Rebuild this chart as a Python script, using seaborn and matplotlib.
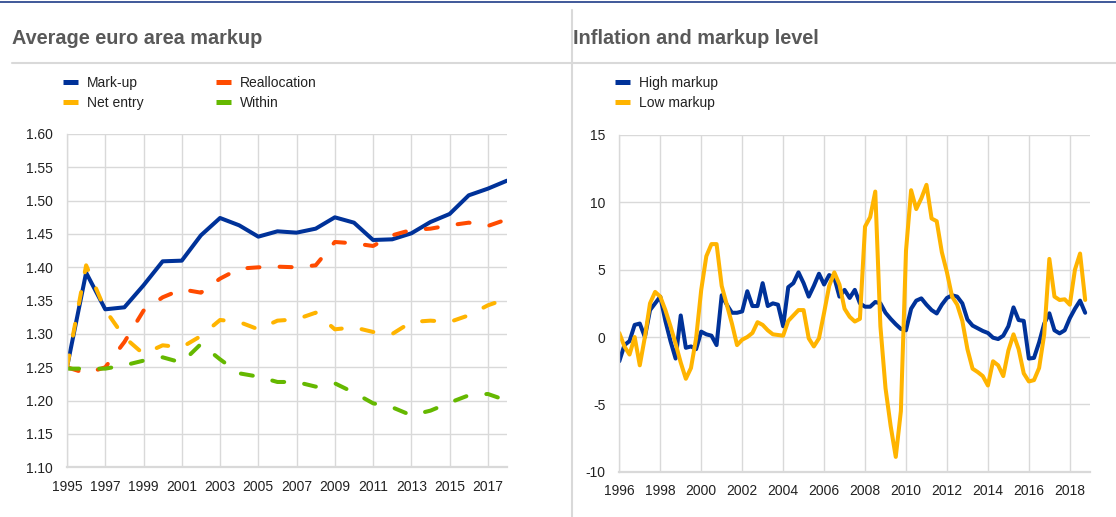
import numpy as np
import pandas as pd
import matplotlib
matplotlib.use("Agg")
import matplotlib.pyplot as plt
from matplotlib.lines import Line2D
import seaborn as sns

# ---------------- data: left panel (annual) ----------------
years = list(range(1995, 2019))
markup = [1.250, 1.392, 1.337, 1.340, 1.373, 1.409, 1.410, 1.448, 1.474, 1.463,
          1.446, 1.454, 1.452, 1.458, 1.475, 1.467, 1.441, 1.442, 1.451, 1.468,
          1.480, 1.508, 1.518, 1.530]
reallocation = [1.250, 1.241, 1.250, 1.288, 1.335, 1.355, 1.367, 1.362, 1.383, 1.398,
                1.400, 1.401, 1.400, 1.403, 1.438, 1.436, 1.432, 1.448, 1.456, 1.458,
                1.463, 1.467, 1.462, 1.472]
net_entry = [1.250, 1.403, 1.336, 1.295, 1.270, 1.283, 1.280, 1.297, 1.321, 1.318,
             1.307, 1.320, 1.322, 1.332, 1.307, 1.310, 1.303, 1.300, 1.318, 1.320,
             1.318, 1.328, 1.343, 1.353]
within = [1.248, 1.248, 1.248, 1.253, 1.260, 1.265, 1.257, 1.285, 1.262, 1.241,
          1.236, 1.228, 1.228, 1.221, 1.226, 1.212, 1.196, 1.190, 1.178, 1.185,
          1.197, 1.208, 1.210, 1.200]
left_labels = ["Mark-up", "Net entry", "Reallocation", "Within"]
left_yticks = [1.10, 1.15, 1.20, 1.25, 1.30, 1.35, 1.40, 1.45, 1.50, 1.55, 1.60]
left_xticks = list(range(1995, 2018, 2))

# ---------------- data: right panel (quarterly, 1996Q1-2018Q4) ----------------
quarters = pd.period_range("1996Q1", "2018Q4", freq="Q")
high_markup = [
    -1.8, -0.6, -0.3, 0.9,
    1.0, 0.0, 2.0, 2.5,
    3.0, 1.2, -0.3, -1.6,
    1.6, -0.8, -0.7, -0.9,
    0.4, 0.2, 0.1, -0.6,
    3.1, 2.4, 1.8, 1.8,
    1.9, 3.4, 2.3, 2.3,
    4.0, 2.3, 2.5, 2.4,
    0.8, 3.7, 4.0, 4.8,
    4.0, 3.0, 3.8, 4.7,
    3.9, 4.6, 4.4, 3.0,
    3.5, 2.9, 3.5, 2.5,
    2.25, 2.25, 2.6, 2.5,
    1.8, 1.35, 0.95, 0.6,
    0.5, 2.1, 2.7, 2.87,
    2.4, 2.0, 1.75, 2.4,
    2.9, 3.1, 3.0, 2.5,
    1.3, 0.85, 0.65, 0.45,
    0.3, -0.05, -0.15, 0.1,
    0.8, 2.2, 1.26, 1.2,
    -1.6, -1.55, -0.4, 1.0,
    1.76, 0.5, 0.27, 0.5,
    1.4, 2.1, 2.7, 1.8]
low_markup = [
    0.3, -0.7, -1.3, 0.0,
    -2.1, 0.0, 2.5, 3.35,
    3.0, 2.0, 0.8, -0.5,
    -1.9, -3.1, -2.3, -0.1,
    3.5, 6.0, 6.9, 6.9,
    3.8, 2.4, 1.0, -0.6,
    -0.2, 0.0, 0.3, 1.1,
    0.9, 0.5, 0.2, 0.15,
    0.1, 1.2, 1.6, 2.0,
    2.0, -0.1, -0.7, -0.1,
    1.8, 3.8, 4.8, 3.9,
    2.1, 1.5, 1.15, 1.35,
    8.2, 8.9, 10.8, 0.8,
    -3.8, -6.6, -8.9, -5.5,
    6.4, 10.9, 9.5, 10.3,
    11.3, 8.8, 8.6, 6.3,
    4.8, 3.0, 2.4, 1.2,
    -0.9, -2.35, -2.6, -2.9,
    -3.6, -1.8, -2.1, -2.9,
    -1.0, 0.2, -0.9, -2.7,
    -3.3, -3.2, -2.3, 0.2,
    5.8, 3.0, 2.75, 2.8,
    2.4, 5.0, 6.2, 2.75]
right_labels = ["High markup", "Low markup"]
right_yticks = [-10, -5, 0, 5, 10, 15]
right_xticks = list(range(1996, 2019, 2))

# ---------------- style ----------------
BLUE = "#003299"
ORANGE = "#FF4B00"
YELLOW = "#FFB400"
GREEN = "#65B800"
GRID = "#d9d9d9"
TEXT = "#222222"
TITLE = "#595959"

sns.set_theme(style="white")
plt.rcParams["font.family"] = ["Liberation Sans", "DejaVu Sans"]
plt.rcParams["axes.unicode_minus"] = False

W, H = 1116, 517
fig = plt.figure(figsize=(W / 100, H / 100), dpi=100)

def fx(px):
    return px / W

def fy(py):
    return 1 - py / H

ax1 = fig.add_axes([fx(67), fy(467.3), fx(507 - 67), (467.3 - 134) / H])
ax2 = fig.add_axes([fx(619.3), fy(471.7), fx(1090.3 - 619.3), (471.7 - 135) / H])

LW = 2.9
dash = (0, (3.0, 5.0))

df_left = pd.DataFrame({"year": years, "Mark-up": markup, "Reallocation": reallocation,
                        "Net entry": net_entry, "Within": within})

for col, color, style in [("Mark-up", BLUE, "-"), ("Reallocation", ORANGE, dash),
                          ("Net entry", YELLOW, dash), ("Within", GREEN, dash)]:
    sns.lineplot(data=df_left, x="year", y=col, ax=ax1, color=color, lw=LW,
                 linestyle=style, legend=False)
    ln = ax1.lines[-1]
    if style != "-":
        ln.set_linestyle(style)
        ln.set_dash_capstyle("round")
    ln.set_solid_joinstyle("round")

ax1.set_xlim(1995, 2018)
ax1.set_ylim(1.10, 1.60)
ax1.set_xticks(left_xticks)
ax1.set_yticks(left_yticks)
ax1.yaxis.set_major_formatter(matplotlib.ticker.FormatStrFormatter("%.2f"))

xq = [p.year + (p.quarter - 1) / 4 for p in quarters]
df_right = pd.DataFrame({"t": xq, "High markup": high_markup, "Low markup": low_markup})
for col, color in [("High markup", BLUE), ("Low markup", YELLOW)]:
    sns.lineplot(data=df_right, x="t", y=col, ax=ax2, color=color, lw=LW, legend=False)
    ax2.lines[-1].set_solid_joinstyle("round")

ax2.set_xlim(1996, 2019)
ax2.set_ylim(-10, 15)
ax2.set_xticks(right_xticks)
ax2.set_yticks(right_yticks)

for ax in (ax1, ax2):
    ax.set_xlabel("")
    ax.set_ylabel("")
    ax.grid(True, color=GRID, lw=1.0)
    ax.set_axisbelow(True)
    for s in ("top", "right"):
        ax.spines[s].set_visible(False)
    ax.spines["left"].set_color(GRID)
    ax.spines["left"].set_linewidth(1.0)
    ax.spines["bottom"].set_color(GRID)
    ax.spines["bottom"].set_linewidth(1.6)
    ax.tick_params(axis="both", length=0, labelsize=10, colors=TEXT)
    ax.tick_params(axis="y", pad=10)
    ax.tick_params(axis="x", pad=9)
    ax.set_facecolor("white")

# ---------------- legends ----------------
lh = [Line2D([], [], color=c, lw=3.6, solid_capstyle="butt") for c in (BLUE, YELLOW, ORANGE, GREEN)]
leg1 = ax1.legend(lh, ["Mark-up", "Net entry", "Reallocation", "Within"], ncol=2,
                  loc="upper left", bbox_to_anchor=(fx(63), fy(76)), bbox_transform=fig.transFigure,
                  frameon=False, fontsize=10, handlelength=1.05, handletextpad=0.65,
                  columnspacing=5.25, labelspacing=0.45, borderpad=0, borderaxespad=0)
for t in leg1.get_texts():
    t.set_color(TEXT)

rh = [Line2D([], [], color=c, lw=3.6, solid_capstyle="butt") for c in (BLUE, YELLOW)]
leg2 = ax2.legend(rh, right_labels, loc="upper left", bbox_to_anchor=(fx(615), fy(76)),
                  bbox_transform=fig.transFigure, frameon=False, fontsize=10,
                  handlelength=1.05, handletextpad=0.65, labelspacing=0.45,
                  borderpad=0, borderaxespad=0)
for t in leg2.get_texts():
    t.set_color(TEXT)

# ---------------- titles and frame lines ----------------
fig.text(fx(12), fy(39), "Average euro area markup", fontsize=14.3, fontweight="bold",
         color=TITLE, ha="left", va="center")
fig.text(fx(573), fy(39), "Inflation and markup level", fontsize=14.3, fontweight="bold",
         color=TITLE, ha="left", va="center")

fig.add_artist(Line2D([fx(12), 1], [fy(63), fy(63)], color=GRID, lw=1.5))
fig.add_artist(Line2D([fx(571.5), fx(571.5)], [fy(10), 0], color=GRID, lw=1.5))
fig.add_artist(Line2D([0, 1], [fy(1.5), fy(1.5)], color="#1f3c88", lw=1.2))

fig.savefig("out.png", dpi=100, facecolor="white")
